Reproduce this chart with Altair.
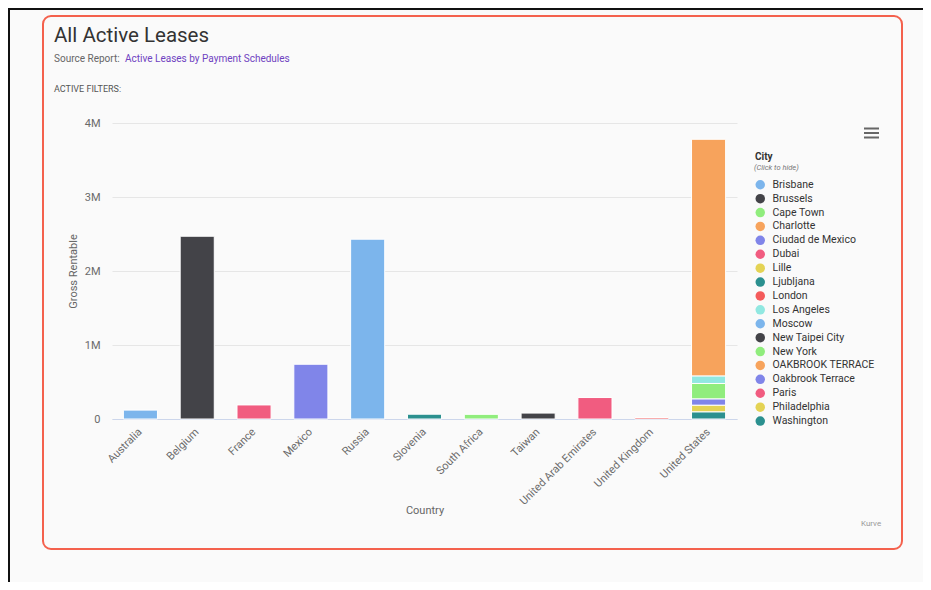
import altair as alt
import pandas as pd

# ---------------- data ----------------
countries = ["Australia", "Belgium", "France", "Mexico", "Russia", "Slovenia",
             "South Africa", "Taiwan", "United Arab Emirates", "United Kingdom",
             "United States"]

cities = ["Brisbane", "Brussels", "Cape Town", "Charlotte", "Ciudad de Mexico",
          "Dubai", "Lille", "Ljubljana", "London", "Los Angeles", "Moscow",
          "New Taipei City", "New York", "OAKBROOK TERRACE", "Oakbrook Terrace",
          "Paris", "Philadelphia", "Washington"]

palette = ["#7cb5ec", "#434348", "#90ed7d", "#f7a35c", "#8085e9", "#f15c80",
           "#e4d354", "#2b908f", "#f45b5b", "#91e8e1", "#7cb5ec", "#434348",
           "#90ed7d", "#f7a35c", "#8085e9", "#f15c80", "#e4d354", "#2b908f"]

bar_country = ["Australia", "Belgium", "France", "Mexico", "Russia", "Slovenia",
               "South Africa", "Taiwan", "United Arab Emirates", "United Kingdom",
               "United States", "United States", "United States", "United States",
               "United States", "United States"]
bar_city = ["Brisbane", "Brussels", "Paris", "Ciudad de Mexico", "Moscow", "Ljubljana",
            "Cape Town", "New Taipei City", "Dubai", "London",
            "Charlotte", "Los Angeles", "New York", "Oakbrook Terrace",
            "Philadelphia", "Washington"]
bar_value = [120000, 2470000, 190000, 740000, 2430000, 65000,
             63000, 80000, 290000, 20000,
             3200000, 100000, 210000, 85000, 90000, 95000]

y_ticks = [0, 1000000, 2000000, 3000000, 4000000]

title_text = "All Active Leases"
source_label = "Source Report:"
source_link = "Active Leases by Payment Schedules"
filters_text = "ACTIVE FILTERS:"
legend_hint = "(Click to hide)"
credit_text = "Kurve"

df = pd.DataFrame({
    "Country": bar_country,
    "City": bar_city,
    "Value": bar_value,
    "idx": [cities.index(c) for c in bar_city],
})

FONT = "Roboto"
W, H = 625, 296


def one(text=""):
    return alt.Chart(pd.DataFrame({"t": [text]}))


card = one().mark_rect(
    fill="transparent", stroke="#f4614d", strokeWidth=2, cornerRadius=8
).encode(x=alt.value(-69), x2=alt.value(790), y=alt.value(-107), y2=alt.value(426))

page_top = one().mark_rule(color="#111111", strokeWidth=2).encode(
    x=alt.value(-104), x2=alt.value(811), y=alt.value(-114))
page_left = one().mark_rule(color="#111111", strokeWidth=2).encode(
    x=alt.value(-103), y=alt.value(-115), y2=alt.value(459))

bars = alt.Chart(df).mark_bar(stroke="#ffffff", strokeWidth=1).encode(
    x=alt.X("Country:N", sort=countries,
            scale=alt.Scale(domain=countries, paddingInner=0.4, paddingOuter=0.2),
            axis=alt.Axis(title="Country", labelAngle=-45, labelAlign="right",
                          labelBaseline="middle", ticks=False, domainColor="#ccd6eb",
                          labelColor="#6a6a6a", labelFontSize=11, labelPadding=11,
                          labelFont=FONT, titleFont=FONT,
                          titleColor="#666666", titleFontSize=11,
                          titleFontWeight="normal", titleX=W / 2, titleY=91,
                          titleBaseline="middle", grid=False)),
    y=alt.Y("Value:Q", stack="zero",
            scale=alt.Scale(domain=[0, 4000000], nice=False),
            axis=alt.Axis(values=y_ticks,
                          labelExpr="datum.value == 0 ? '0' : (datum.value / 1000000) + 'M'",
                          title="Gross Rentable", gridColor="#e6e6e6", domain=False,
                          ticks=False, labelPadding=12, labelColor="#6a6a6a",
                          labelFontSize=11, labelFont=FONT, titleFont=FONT,
                          titleColor="#666666", titleFontSize=11,
                          titleFontWeight="normal", titleX=-39, titleY=H / 2,
                          titleAngle=-90, titleAlign="center", titleBaseline="middle")),
    color=alt.Color("City:N",
                    scale=alt.Scale(domain=cities, range=palette),
                    legend=alt.Legend(orient="none", legendX=643, legendY=29,
                                      title="City", titleFontSize=10,
                                      titleFontWeight="bold", titleColor="#333333",
                                      titleFont=FONT, titlePadding=17.5,
                                      symbolType="circle", symbolSize=90,
                                      symbolStrokeWidth=0, symbolOpacity=1,
                                      labelFontSize=10.5, labelColor="#333333",
                                      labelFont=FONT, labelOffset=7, rowPadding=2.9,
                                      padding=0, direction="vertical",
                                      labelLimit=250)),
    order=alt.Order("idx:Q", sort="descending"),
)

title = one(title_text).mark_text(
    align="left", baseline="alphabetic", fontSize=20.5, font=FONT, color="#333333"
).encode(x=alt.value(-58), y=alt.value(-81), text="t:N")

src1 = one(source_label).mark_text(
    align="left", baseline="alphabetic", fontSize=10, font=FONT, color="#666666"
).encode(x=alt.value(-58), y=alt.value(-61.5), text="t:N")

src2 = one(source_link).mark_text(
    align="left", baseline="alphabetic", fontSize=10, font=FONT, color="#6f42c1"
).encode(x=alt.value(13), y=alt.value(-61.5), text="t:N")

filters = one(filters_text).mark_text(
    align="left", baseline="alphabetic", fontSize=9, font=FONT, color="#555555"
).encode(x=alt.value(-58), y=alt.value(-31.5), text="t:N")

hint = one(legend_hint).mark_text(
    align="left", baseline="middle", fontSize=7.5, font=FONT, fontStyle="italic",
    color="#777777"
).encode(x=alt.value(642), y=alt.value(45), text="t:N")

credit = one(credit_text).mark_text(
    align="left", baseline="middle", fontSize=8, font=FONT, color="#999999"
).encode(x=alt.value(749), y=alt.value(401), text="t:N")

menu = [one().mark_rule(color="#666666", strokeWidth=2).encode(
            x=alt.value(752), x2=alt.value(767), y=alt.value(yy))
        for yy in (5.5, 10, 14.5)]

chart = alt.layer(
    card, page_top, page_left, bars, title, src1, src2, filters, hint, credit, *menu
).properties(
    width=W, height=H,
    autosize=alt.AutoSizeParams(type="none"),
    padding={"left": 104, "top": 115, "right": 186, "bottom": 163},
).configure(
    background="#fafafa", font=FONT
).configure_view(stroke=None)

chart.save("out.html", embed_options={"renderer": "svg", "actions": False})
